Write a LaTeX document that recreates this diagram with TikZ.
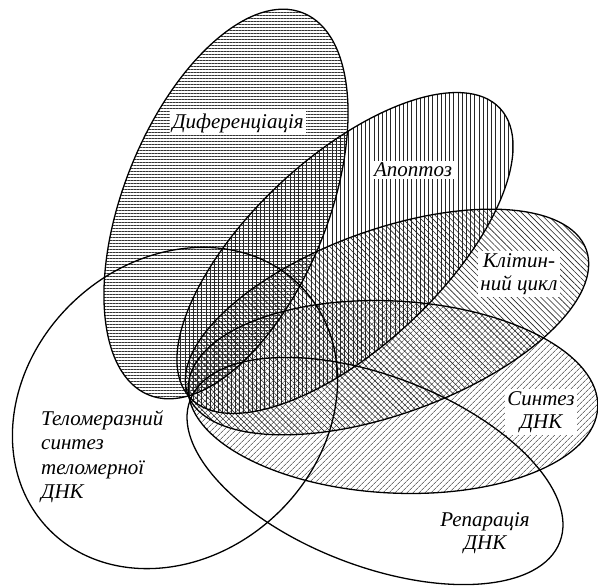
\documentclass[tikz,border=0pt]{standalone}
\usepackage{fontspec}
\setmainfont{Liberation Serif}
\usetikzlibrary{patterns.meta}
\tikzset{
  outline/.style={draw=black, line width=1.3pt},
  lbl/.style={font=\fontsize{21}{23}\selectfont\itshape, inner sep=0pt, align=center},
  lblleft/.style={font=\fontsize{21}{24.5}\selectfont\itshape, inner sep=0pt, align=left, anchor=north west},
  hatchH/.style={pattern={Lines[angle=0,distance=3pt,line width=0.5pt]}, pattern color=black!80},
  hatchV/.style={pattern={Lines[angle=90,distance=4.2pt,line width=0.6pt]}, pattern color=black!85},
  hatchNW/.style={pattern={Lines[angle=-45,distance=4.2pt,line width=0.6pt]}, pattern color=black!85},
  hatchNE/.style={pattern={Lines[angle=45,distance=4pt,line width=0.6pt]}, pattern color=black!85},
}
\begin{document}
\begin{tikzpicture}[x=1pt,y=-1pt]
\useasboundingbox (0,0) rectangle (598,588);
\fill[white] (0,0) rectangle (598,588);
% coordinates of ellipse centres
\coordinate (cD) at (226,204);
\coordinate (cA) at (345,253);
\coordinate (cK) at (387,322);
\coordinate (cS) at (393,397);
\coordinate (cR) at (375,471);
\coordinate (cT) at (175,408);
% fills
\path[hatchH, rotate around={68:(cD)}] (cD) ellipse [x radius=206, y radius=102];
\path[hatchV, rotate around={43:(cA)}] (cA) ellipse [x radius=212, y radius=95];
\path[hatchNW, rotate around={20:(cK)}] (cK) ellipse [x radius=212, y radius=92];
\path[hatchNE, rotate around={-3:(cS)}] (cS) ellipse [x radius=205, y radius=96];
% outlines
\draw[outline, rotate around={43:(cT)}] (cT) ellipse [x radius=175, y radius=147];
\draw[outline, rotate around={-21:(cR)}] (cR) ellipse [x radius=198, y radius=95];
\draw[outline, rotate around={68:(cD)}] (cD) ellipse [x radius=206, y radius=102];
\draw[outline, rotate around={43:(cA)}] (cA) ellipse [x radius=212, y radius=95];
\draw[outline, rotate around={20:(cK)}] (cK) ellipse [x radius=212, y radius=92];
\draw[outline, rotate around={-3:(cS)}] (cS) ellipse [x radius=205, y radius=96];
% labels
\node[lbl, fill=white, inner sep=2pt] (tD) at (238,123) {Диференціація};
\node[lbl, fill=white, inner sep=2pt] (tA) at (413,170) {Апоптоз};
\node[lbl, fill=white, inner sep=2pt] (tK) at (519,274) {Клітин-\\ний цикл};
\node[lbl, fill=white, inner sep=2pt] (tS) at (541,412) {Синтез\\ДНК};
\node[lbl] (tR) at (485,533) {Репарація\\ДНК};
\node[lblleft] (tT) at (41,410) {Теломеразний\\синтез\\теломерної\\ДНК};
\end{tikzpicture}
\end{document}
